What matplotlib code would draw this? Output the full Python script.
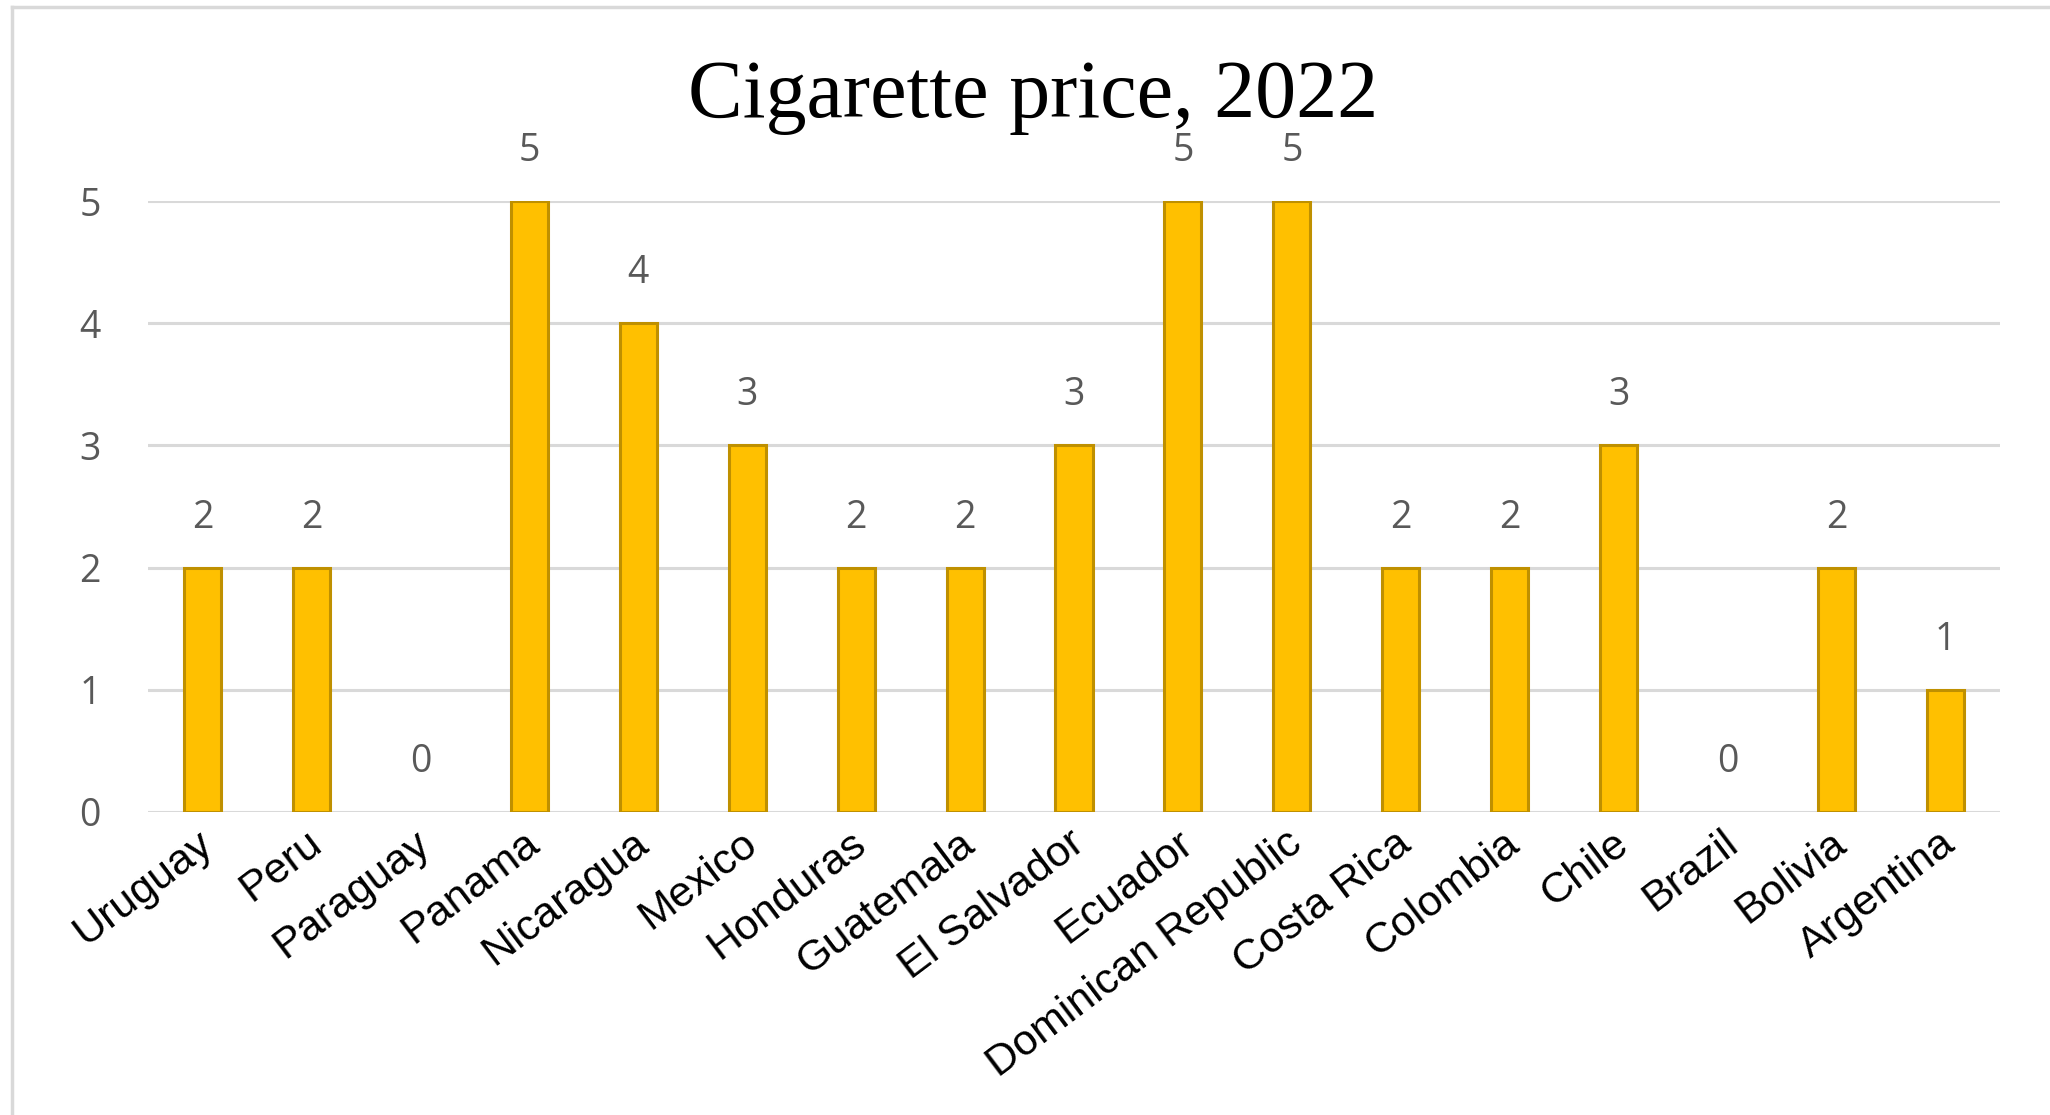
import matplotlib.pyplot as plt
from matplotlib.lines import Line2D

countries = ['Uruguay', 'Peru', 'Paraguay', 'Panama', 'Nicaragua', 'Mexico',
             'Honduras', 'Guatemala', 'El Salvador', 'Ecuador',
             'Dominican Republic', 'Costa Rica', 'Colombia', 'Chile',
             'Brazil', 'Bolivia', 'Argentina']
price = [2, 2, 0, 5, 4, 3, 2, 2, 3, 5, 5, 2, 2, 3, 0, 2, 1]
yticks = [0, 1, 2, 3, 4, 5]

GRAY_TXT = '#595959'
GRID = '#D9D9D9'

fig = plt.figure(figsize=(20.5, 11.15), dpi=100)
ax = fig.add_axes([148 / 2050, 1 - 812 / 1115, (2000 - 148) / 2050, (812 - 201) / 1115])

x = range(len(countries))
bars = ax.bar(x, price, width=0.34, color='#FFC000', edgecolor='#BF9000', linewidth=2.2, zorder=3)
# zero-height bars should leave no outline on the baseline
for b, v in zip(bars, price):
    if v == 0:
        b.set_linewidth(0)

for i, v in enumerate(price):
    ax.annotate(str(v), (i, v), xytext=(0, 36), textcoords='offset points',
                ha='center', va='center', fontsize=27, color=GRAY_TXT,
                family='Open Sans', annotation_clip=False)

ax.set_xlim(-0.5, len(countries) - 0.5)
ax.set_ylim(0, 5)
ax.set_yticks(yticks)
ax.set_yticklabels([str(t) for t in yticks], fontsize=27, color=GRAY_TXT, family='Open Sans')
ax.tick_params(axis='y', length=0, pad=34)
ax.tick_params(axis='x', length=0, pad=8)
ax.yaxis.grid(True, color=GRID, linewidth=2.2, zorder=0)
ax.set_axisbelow(True)
for s in ax.spines.values():
    s.set_visible(False)

ax.set_xticks([i - 0.06 for i in x])
ax.set_xticklabels(countries, rotation=37, ha='right', va='top', rotation_mode='anchor',
                   fontsize=31, family='Liberation Sans', color='black')

fig.text(1033 / 2050, 1 - 97 / 1115, 'Cigarette price, 2022', ha='center', va='center',
         fontsize=59, family='Liberation Serif', color='black')

# chart frame (only top and left edges visible)
fig.add_artist(Line2D([12 / 2050, 1], [1 - 7 / 1115] * 2, transform=fig.transFigure,
                      color=GRID, linewidth=2.5))
fig.add_artist(Line2D([12 / 2050] * 2, [0, 1 - 7 / 1115], transform=fig.transFigure,
                      color=GRID, linewidth=2.5))

fig.savefig('out.png', dpi=100, facecolor='white')
